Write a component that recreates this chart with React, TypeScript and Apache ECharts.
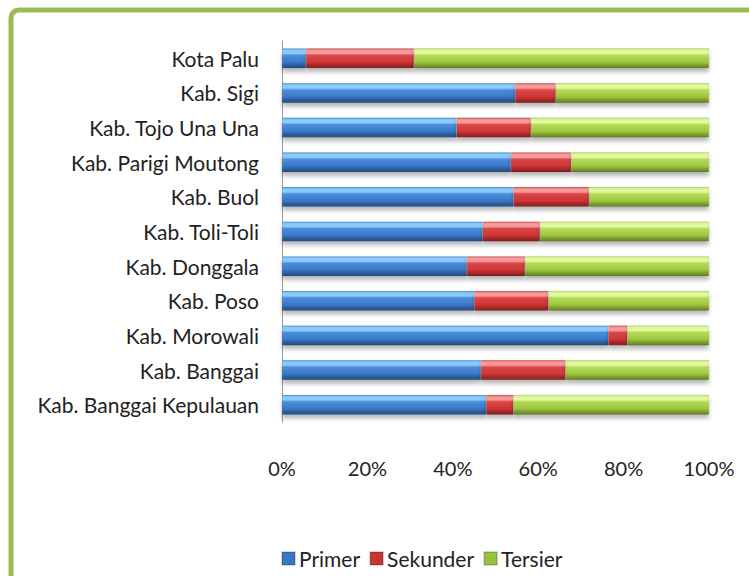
import React, { useEffect, useRef } from "react";
import * as echarts from "echarts";

const categories = [
  "Kota Palu",
  "Kab. Sigi",
  "Kab. Tojo Una Una",
  "Kab. Parigi Moutong",
  "Kab. Buol",
  "Kab. Toli-Toli",
  "Kab. Donggala",
  "Kab. Poso",
  "Kab. Morowali",
  "Kab. Banggai",
  "Kab. Banggai Kepulauan",
];
const primer = [5.6, 54.6, 40.9, 53.6, 54.2, 47.0, 43.3, 45.0, 76.4, 46.6, 47.8];
const sekunder = [25.3, 9.5, 17.4, 14.1, 17.7, 13.4, 13.6, 17.4, 4.5, 19.8, 6.4];
const tersier = [69.1, 35.9, 41.7, 32.3, 28.1, 39.6, 43.1, 37.6, 19.1, 33.6, 45.8];
const seriesNames = ["Primer", "Sekunder", "Tersier"];

const FONT = "Lato, 'Open Sans', sans-serif";

function grad(c: string[]) {
  return new echarts.graphic.LinearGradient(0, 0, 0, 1, [
    { offset: 0, color: c[0] },
    { offset: 0.1, color: c[1] },
    { offset: 0.25, color: c[1] },
    { offset: 0.35, color: c[2] },
    { offset: 0.7, color: c[3] },
    { offset: 0.85, color: c[4] },
    { offset: 1, color: c[5] },
  ]);
}

export default function App() {
  const ref = useRef<HTMLDivElement>(null);
  useEffect(() => {
    document.body.style.margin = "0";
    const chart = echarts.init(ref.current!, null, { renderer: "svg" });
    const colors = [
      grad(["#4f95e0", "#8ccaf9", "#4a8fdc", "#3a77c6", "#2b5d9c", "#244f86"]),
      grad(["#d95050", "#f59a9a", "#dc4646", "#cc3636", "#a42828", "#852020"]),
      grad(["#b8e060", "#e2f8a0", "#b4dc58", "#9cc63e", "#7c9f30", "#647f26"]),
    ];
    const legendColors = ["#3a76c4", "#cc3333", "#97c23d"];
    const data = [primer, sekunder, tersier];
    chart.setOption({
      animation: false,
      color: legendColors,
      graphic: [
        {
          type: "rect",
          shape: { x: 11, y: 10, width: 800, height: 700, r: 8 },
          style: { fill: "none", stroke: "#9bbb59", lineWidth: 5 },
          z: 0,
        },
      ],
      grid: { left: 282, right: 40, top: 41, bottom: 154, containLabel: false },
      xAxis: {
        type: "value",
        min: 0,
        max: 100,
        interval: 20,
        axisLine: { show: false },
        axisTick: { show: false },
        splitLine: { show: false },
        axisLabel: {
          formatter: "{value}%",
          margin: 36,
          fontSize: 20,
          fontFamily: FONT,
          color: "#222",
        },
      },
      yAxis: {
        type: "category",
        data: categories,
        inverse: true,
        axisLine: { show: true, lineStyle: { color: "#9a9a9a", width: 1 } },
        axisTick: { show: false },
        axisLabel: { margin: 23, fontSize: 21, fontFamily: FONT, color: "#222" },
      },
      legend: {
        bottom: 2,
        left: 276,
        icon: "rect",
        itemWidth: 13,
        itemHeight: 13,
        itemGap: 9,
        textStyle: { fontSize: 21, fontFamily: FONT, color: "#222", padding: [0, 0, 0, -1] },
        data: seriesNames.map((n, i) => ({ name: n, itemStyle: { color: legendColors[i] } })),
      },
      series: seriesNames.map((name, i) => ({
        name,
        type: "bar",
        stack: "total",
        barWidth: 20,
        data: data[i],
        itemStyle: {
          color: colors[i],
          borderColor: "rgba(0,0,0,0.15)",
          borderWidth: 0.5,
          shadowColor: "rgba(0,0,0,0.28)",
          shadowBlur: 4,
          shadowOffsetY: 4,
        },
      })),
    });
    return () => chart.dispose();
  }, []);
  return <div ref={ref} style={{ width: 749, height: 576, background: "#fff" }} />;
}
